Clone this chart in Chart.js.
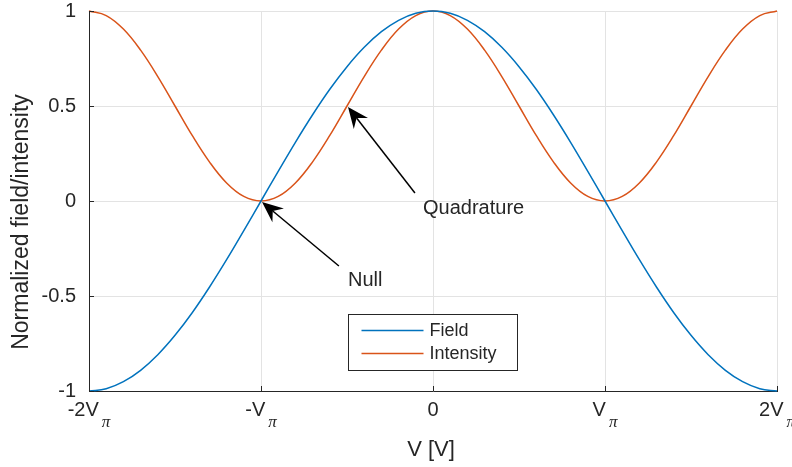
<!DOCTYPE html>
<html>
<head>
<meta charset="utf-8">
<script src="https://cdn.jsdelivr.net/npm/chart.js@4"></script>
<style>
  html, body { margin: 0; padding: 0; background: #fff; }
  canvas { display: block; }
</style>
</head>
<body>
<canvas id="grafico" width="792" height="467"></canvas>
<script>
const vRatio = [-2,-1.9,-1.8,-1.7,-1.6,-1.5,-1.4,-1.3,-1.2,-1.1,-1,-0.9,-0.8,-0.7,-0.6,-0.5,-0.4,-0.3,-0.2,-0.1,
  0,0.1,0.2,0.3,0.4,0.5,0.6,0.7,0.8,0.9,1,1.1,1.2,1.3,1.4,1.5,1.6,1.7,1.8,1.9,2];
const field = [-1,-0.988,-0.951,-0.891,-0.809,-0.707,-0.588,-0.454,-0.309,-0.156,0,0.156,0.309,0.454,0.588,0.707,0.809,0.891,0.951,0.988,
  1,0.988,0.951,0.891,0.809,0.707,0.588,0.454,0.309,0.156,0,-0.156,-0.309,-0.454,-0.588,-0.707,-0.809,-0.891,-0.951,-0.988,-1];
const intensity = [1,0.976,0.905,0.794,0.655,0.5,0.345,0.206,0.095,0.024,0,0.024,0.095,0.206,0.345,0.5,0.655,0.794,0.905,0.976,
  1,0.976,0.905,0.794,0.655,0.5,0.345,0.206,0.095,0.024,0,0.024,0.095,0.206,0.345,0.5,0.655,0.794,0.905,0.976,1];

const xTicks = [-2, -1, 0, 1, 2];
const xTickText = ['-2V', '-V', '0', 'V', '2V'];
const xTickSub = ['π', 'π', '', 'π', 'π'];
const yTicks = [-1, -0.5, 0, 0.5, 1];

const seriesNames = ['Field', 'Intensity'];
const colores = ['#0072BD', '#D95319'];

// anotaciones: punta, cola y texto (en unidades de datos)
const notas = [
  { texto: 'Null', punta: [-1, 0], cola: [-0.547, -0.342], pos: [-0.494, -0.447] },
  { texto: 'Quadrature', punta: [-0.5, 0.5], cola: [-0.105, 0.042], pos: [-0.058, -0.068] }
];

const fuente = '"Liberation Sans", Arial, Helvetica, sans-serif';
const oscuro = '#262626';

function flecha(ctx, x0, y0, x1, y1) {
  const ang = Math.atan2(y1 - y0, x1 - x0);
  const largo = 21, ancho = 9, muesca = 14;
  const bx = x1 - Math.cos(ang) * muesca, by = y1 - Math.sin(ang) * muesca;
  ctx.beginPath();
  ctx.moveTo(x0, y0);
  ctx.lineTo(bx, by);
  ctx.lineWidth = 1.5;
  ctx.stroke();
  const cx = x1 - Math.cos(ang) * largo, cy = y1 - Math.sin(ang) * largo;
  const nx = -Math.sin(ang) * ancho, ny = Math.cos(ang) * ancho;
  ctx.beginPath();
  ctx.moveTo(x1, y1);
  ctx.lineTo(cx + nx, cy + ny);
  ctx.lineTo(bx, by);
  ctx.lineTo(cx - nx, cy - ny);
  ctx.closePath();
  ctx.fill();
}

const extras = {
  id: 'extras',
  afterDraw(chart) {
    const { ctx, chartArea: a, scales: { x, y } } = chart;
    ctx.save();

    // ticks hacia adentro
    ctx.strokeStyle = oscuro;
    ctx.lineWidth = 1;
    ctx.beginPath();
    xTicks.forEach(v => {
      const px = Math.round(x.getPixelForValue(v)) + 0.5;
      ctx.moveTo(px, a.bottom);
      ctx.lineTo(px, a.bottom - 5);
    });
    yTicks.forEach(v => {
      const py = Math.round(y.getPixelForValue(v)) + 0.5;
      ctx.moveTo(a.left, py);
      ctx.lineTo(a.left + 5, py);
    });
    ctx.stroke();

    // etiquetas del eje x con subindice
    ctx.fillStyle = oscuro;
    ctx.textBaseline = 'alphabetic';
    ctx.textAlign = 'left';
    const subFont = 'italic 17px "Liberation Serif", serif';
    xTicks.forEach((v, i) => {
      const px = x.getPixelForValue(v);
      ctx.font = '20px ' + fuente;
      const w1 = ctx.measureText(xTickText[i]).width;
      ctx.font = subFont;
      const w2 = xTickSub[i] ? ctx.measureText(xTickSub[i]).width + 3 : 0;
      const x0 = px - (w1 + w2) / 2;
      ctx.font = '20px ' + fuente;
      ctx.fillText(xTickText[i], x0, 416);
      if (xTickSub[i]) {
        ctx.font = subFont;
        ctx.fillText(xTickSub[i], x0 + w1 + 3, 427);
      }
    });

    // titulos de ejes
    ctx.font = '22px ' + fuente;
    ctx.textAlign = 'center';
    ctx.fillText('V [V]', (a.left + a.right) / 2 - 2, 456);
    ctx.save();
    ctx.translate(28, 222);
    ctx.rotate(-Math.PI / 2);
    ctx.font = '23px ' + fuente;
    ctx.fillText('Normalized field/intensity', 0, 0);
    ctx.restore();

    // anotaciones
    notas.forEach(n => {
      const tx = x.getPixelForValue(n.punta[0]), ty = y.getPixelForValue(n.punta[1]);
      const cx = x.getPixelForValue(n.cola[0]), cy = y.getPixelForValue(n.cola[1]);
      ctx.fillStyle = '#000';
      ctx.strokeStyle = '#000';
      flecha(ctx, cx, cy, tx + 1, ty + 1);
      ctx.font = '20px ' + fuente;
      ctx.textAlign = 'left';
      ctx.fillStyle = oscuro;
      ctx.fillText(n.texto, x.getPixelForValue(n.pos[0]), y.getPixelForValue(n.pos[1]));
    });

    // leyenda
    const lx = 348.5, ly = 314.5, lw = 169, lh = 56;
    ctx.fillStyle = '#fff';
    ctx.fillRect(lx, ly, lw, lh);
    ctx.strokeStyle = oscuro;
    ctx.lineWidth = 1;
    ctx.strokeRect(lx, ly, lw, lh);
    ctx.font = '18px ' + fuente;
    ctx.textBaseline = 'middle';
    seriesNames.forEach((nombre, i) => {
      const yy = ly + 16 + i * 23;
      ctx.strokeStyle = colores[i];
      ctx.lineWidth = 1.5;
      ctx.beginPath();
      ctx.moveTo(lx + 13, yy);
      ctx.lineTo(lx + 75, yy);
      ctx.stroke();
      ctx.fillStyle = oscuro;
      ctx.fillText(nombre, lx + 81, yy + 1);
    });

    ctx.restore();
  }
};

const ctx = document.getElementById('grafico').getContext('2d');
new Chart(ctx, {
  type: 'line',
  data: {
    datasets: [
      {
        label: seriesNames[0],
        data: vRatio.map((v, i) => ({ x: v, y: field[i] })),
        borderColor: colores[0],
        borderWidth: 1.5,
        pointRadius: 0,
        tension: 0.4,
        clip: 3
      },
      {
        label: seriesNames[1],
        data: vRatio.map((v, i) => ({ x: v, y: intensity[i] })),
        borderColor: colores[1],
        borderWidth: 1.5,
        pointRadius: 0,
        tension: 0.4,
        clip: 3
      }
    ]
  },
  options: {
    responsive: false,
    animation: false,
    devicePixelRatio: 1,
    layout: { padding: { top: 11, right: 15, left: 0, bottom: 0 } },
    plugins: { legend: { display: false }, tooltip: { enabled: false } },
    scales: {
      x: {
        type: 'linear',
        min: -2, max: 2,
        afterFit: s => { s.height = 76; s.paddingLeft = 0; s.paddingRight = 0; },
        afterBuildTicks: s => { s.ticks = xTicks.map(v => ({ value: v })); },
        ticks: { callback: () => '', font: { size: 20, family: fuente } },
        grid: { color: '#e3e3e3', drawTicks: false },
        border: { display: true, color: oscuro, width: 1 }
      },
      y: {
        min: -1, max: 1,
        afterFit: s => { s.width = 89; s.paddingTop = 0; s.paddingBottom = 0; },
        afterBuildTicks: s => { s.ticks = yTicks.map(v => ({ value: v })); },
        ticks: {
          color: oscuro,
          padding: 13,
          font: { size: 20, family: fuente },
          callback: v => String(v)
        },
        grid: { color: '#e3e3e3', drawTicks: false },
        border: { display: true, color: oscuro, width: 1 }
      }
    }
  },
  plugins: [extras]
});
</script>
</body>
</html>
